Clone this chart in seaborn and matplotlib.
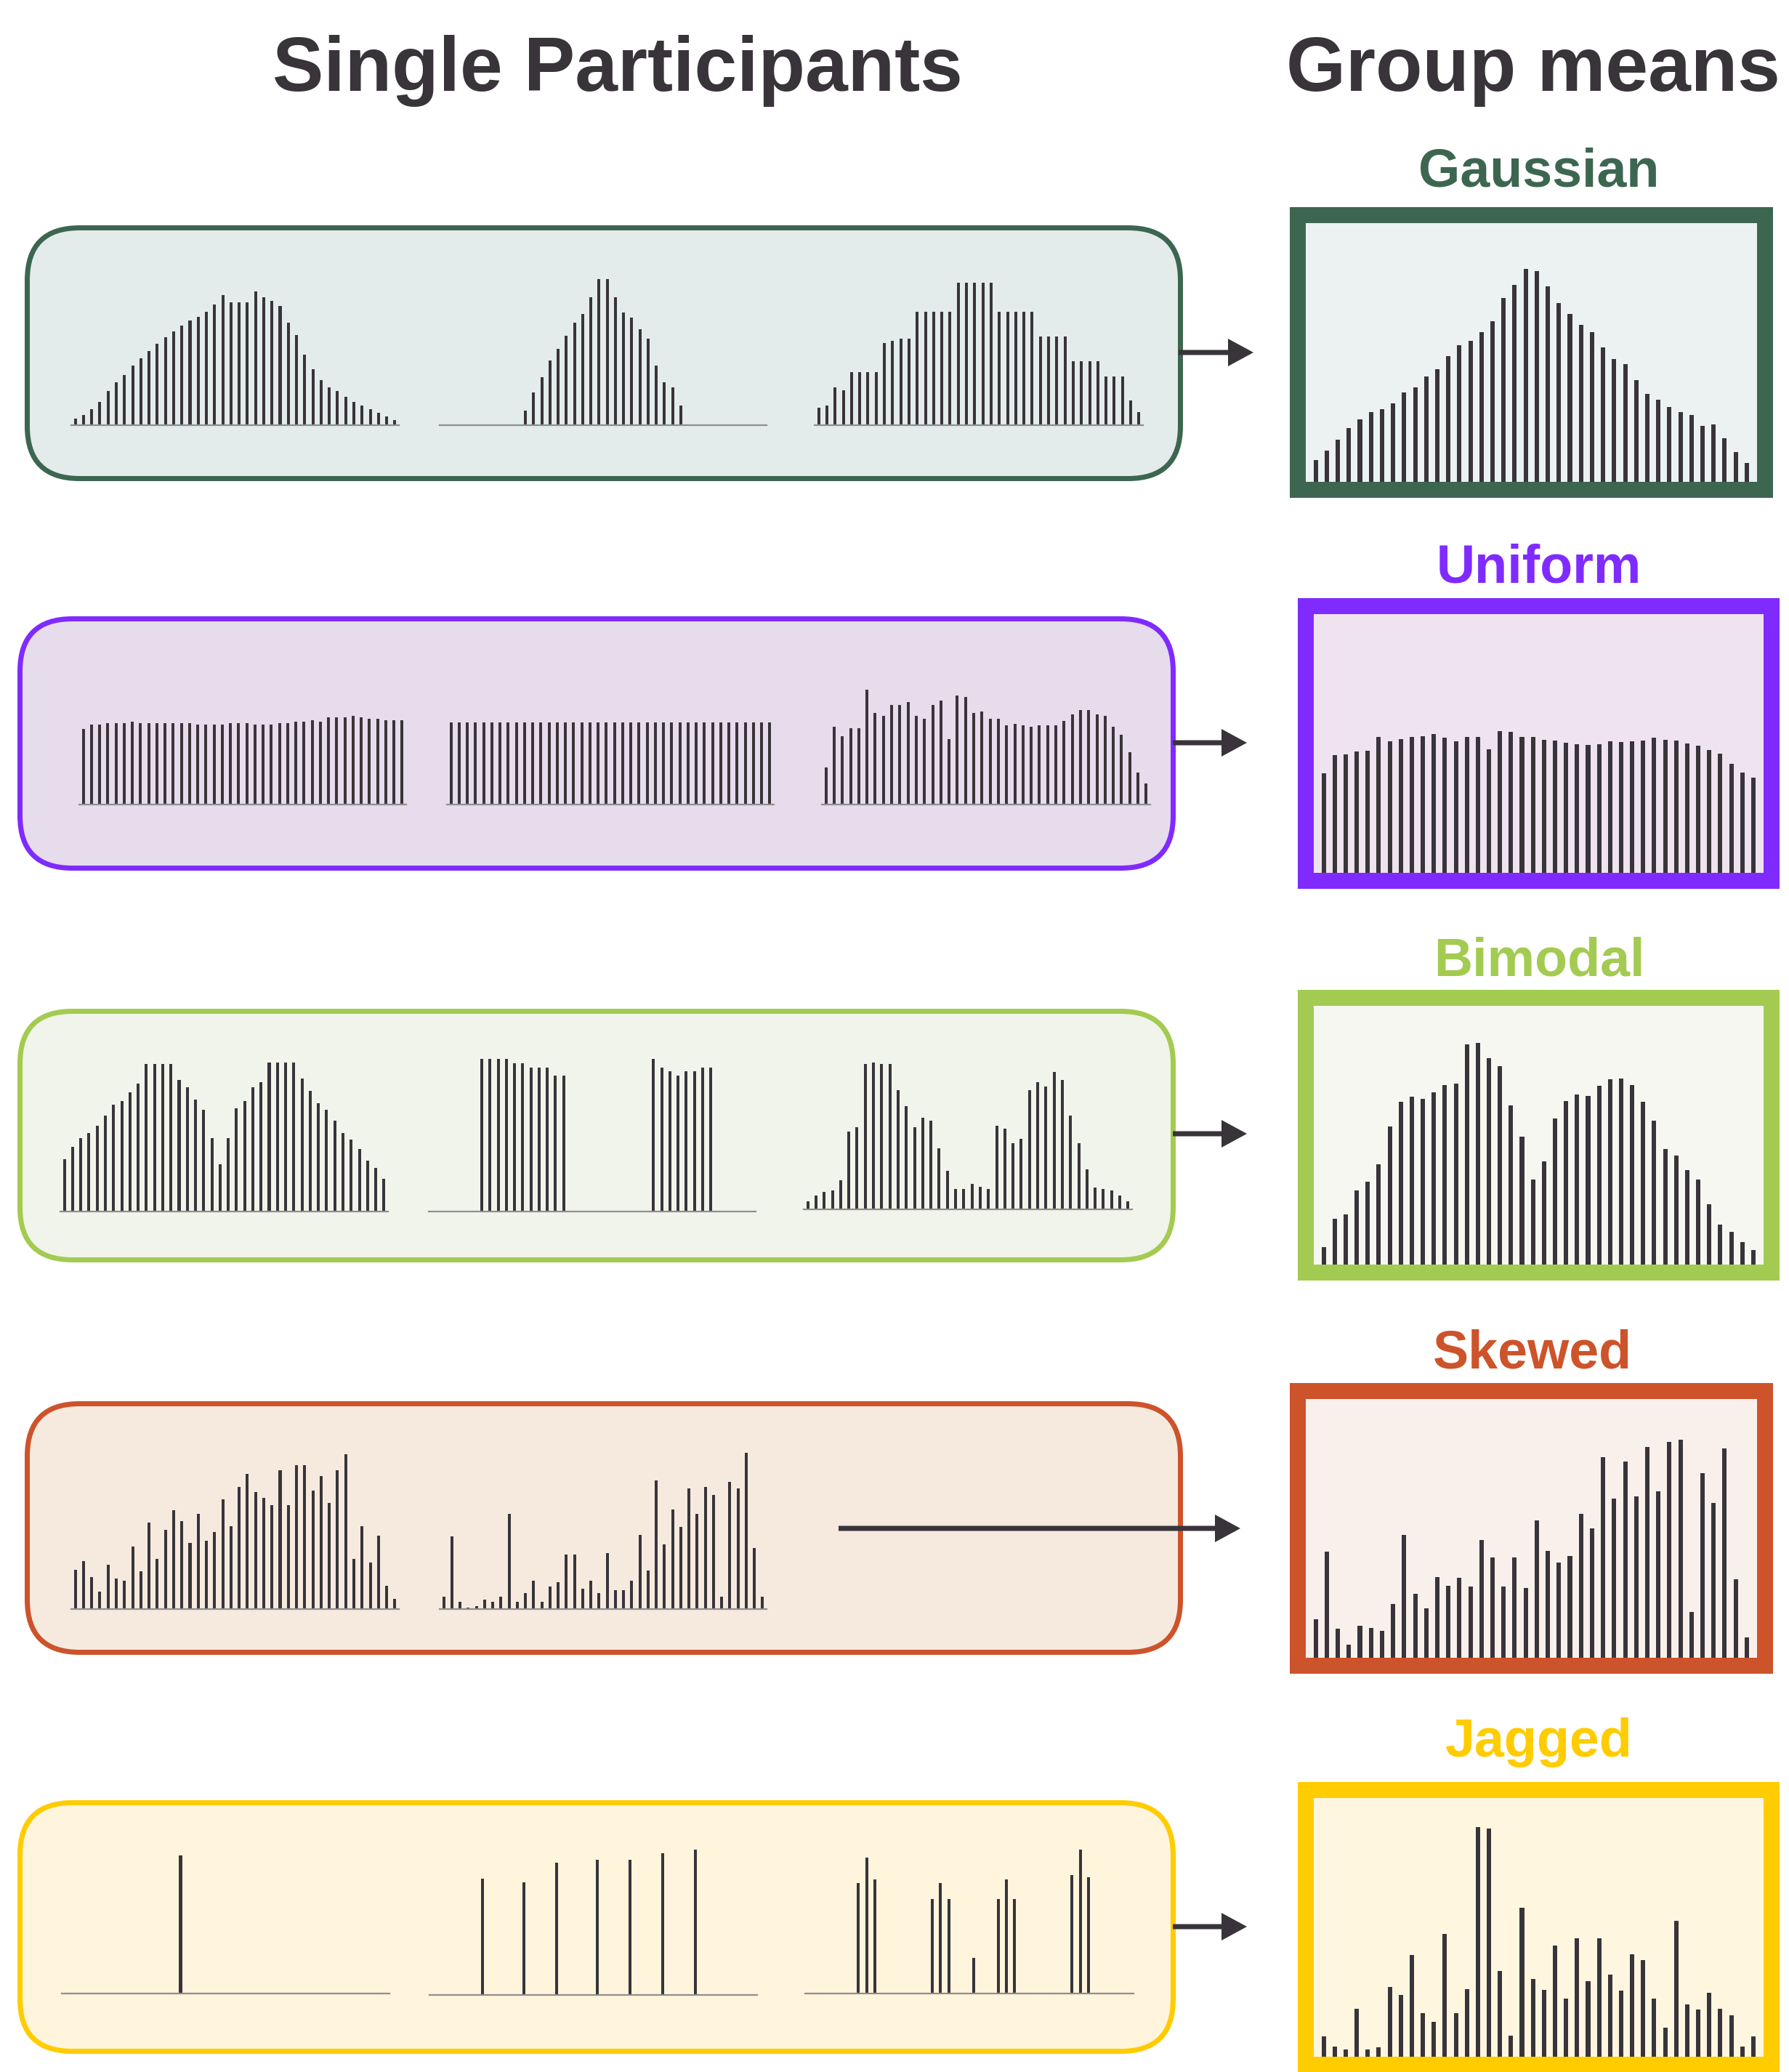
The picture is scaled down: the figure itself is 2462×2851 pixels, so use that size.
import numpy as np
import pandas as pd
import matplotlib
matplotlib.use("Agg")
import matplotlib.pyplot as plt
import seaborn as sns
from matplotlib.patches import FancyBboxPatch, Rectangle

sns.set_style("white")
plt.rcParams['font.family'] = ['Liberation Sans', 'DejaVu Sans']

# ---------------- data (bar heights, 40 bins per histogram) ----------------
gauss_p1 = [28, 43, 66, 96, 140, 178, 208, 245, 275, 305, 335, 364, 387, 410, 432, 447, 469, 499, 536, 507,
            507, 507, 551, 529, 514, 492, 424, 372, 290, 230, 186, 156, 141, 118, 96, 81, 66, 51, 36, 21]
gauss_p2 = [0, 0, 0, 0, 0, 0, 0, 0, 0, 0, 60, 136, 198, 267, 314, 368, 424, 459, 527, 604,
            604, 527, 466, 445, 397, 356, 246, 177, 157, 80, 0, 0, 0, 0, 0, 0, 0, 0, 0, 0]
gauss_p3 = [72, 81, 156, 144, 219, 219, 219, 219, 339, 348, 357, 357, 468, 468, 468, 468, 468, 588, 588, 588,
            588, 588, 468, 468, 468, 468, 468, 366, 366, 366, 366, 265, 265, 265, 265, 201, 201, 201, 101, 54]
gauss_mean = [90, 129, 174, 221, 257, 288, 301, 323, 368, 390, 435, 464, 519, 565, 582, 619, 664, 758, 813, 880,
              871, 806, 738, 693, 649, 618, 555, 506, 487, 420, 363, 339, 310, 288, 276, 231, 236, 179, 122, 77]

unif_p1 = [313, 330, 330, 336, 336, 336, 342, 336, 336, 336, 336, 336, 336, 336, 330, 330, 330, 330, 336, 336,
           336, 330, 330, 330, 336, 336, 342, 342, 348, 342, 360, 360, 360, 366, 360, 354, 354, 348, 348, 348]
unif_p2 = [340, 340, 340, 340, 340, 340, 340, 340, 340, 340, 340, 340, 340, 340, 340, 340, 340, 340, 340, 340,
           340, 340, 340, 340, 340, 340, 340, 340, 340, 340, 340, 340, 340, 340, 340, 340, 340, 340, 340, 340]
unif_p3 = [153, 321, 281, 315, 315, 475, 379, 365, 411, 411, 423, 365, 353, 411, 430, 269, 449, 443, 379, 385,
           353, 353, 327, 333, 327, 321, 327, 327, 327, 346, 372, 391, 391, 372, 366, 321, 288, 217, 133, 88]
unif_mean = [410, 486, 489, 501, 504, 560, 542, 551, 562, 565, 572, 557, 544, 561, 561, 509, 584, 581, 561, 562,
             549, 545, 537, 532, 528, 531, 542, 539, 542, 547, 559, 549, 546, 535, 525, 507, 492, 451, 413, 394]

bimod_p1 = [216, 266, 303, 325, 354, 397, 441, 455, 492, 528, 608, 608, 608, 608, 543, 513, 463, 419, 303, 194,
            303, 427, 455, 513, 535, 615, 615, 615, 615, 550, 499, 448, 419, 375, 325, 296, 259, 209, 180, 136]
bimod_p2 = [0, 0, 0, 0, 0, 0, 631, 631, 631, 631, 613, 613, 595, 595, 595, 560, 560, 0, 0, 0,
            0, 0, 0, 0, 0, 0, 0, 631, 595, 578, 560, 578, 578, 595, 595, 0, 0, 0, 0, 0]
bimod_p3 = [32, 57, 72, 79, 119, 321, 339, 600, 607, 600, 600, 493, 427, 339, 379, 365, 252, 159, 85, 85,
            105, 92, 85, 346, 332, 272, 292, 493, 526, 506, 566, 533, 386, 272, 165, 91, 84, 77, 57, 32]
bimod_mean = [71, 190, 208, 306, 342, 414, 569, 672, 692, 683, 711, 741, 748, 910, 916, 851, 819, 657, 528, 350,
              425, 603, 674, 702, 696, 738, 765, 769, 742, 673, 595, 478, 450, 391, 352, 250, 166, 135, 94, 59]

skew_p1 = [162, 199, 133, 73, 184, 125, 118, 259, 155, 356, 207, 326, 408, 363, 274, 393, 281, 319, 453, 341,
           505, 557, 482, 460, 430, 572, 430, 594, 594, 490, 550, 438, 572, 639, 207, 341, 192, 304, 95, 43]
skew_p2 = [51, 299, 31, 5, 12, 38, 31, 51, 392, 31, 65, 118, 31, 92, 111, 225, 225, 85, 118, 65,
           232, 78, 78, 118, 305, 159, 532, 266, 412, 339, 499, 392, 505, 472, 51, 525, 499, 645, 252, 51]
skew_mean = [160, 438, 120, 54, 133, 122, 111, 222, 506, 264, 203, 334, 297, 331, 294, 487, 415, 295, 415, 288,
             566, 441, 393, 420, 593, 534, 827, 658, 809, 666, 870, 687, 891, 899, 189, 763, 640, 863, 323, 84]

jag_p1 = [0, 0, 0, 0, 0, 0, 0, 0, 0, 0, 0, 0, 0, 0, 571, 0, 0, 0, 0, 0,
          0, 0, 0, 0, 0, 0, 0, 0, 0, 0, 0, 0, 0, 0, 0, 0, 0, 0, 0, 0]
jag_p2 = [0, 0, 0, 0, 0, 0, 479, 0, 0, 0, 0, 466, 0, 0, 0, 546, 0, 0, 0, 0,
          559, 0, 0, 0, 559, 0, 0, 0, 586, 0, 0, 0, 599, 0, 0, 0, 0, 0, 0, 0]
jag_p3 = [0, 0, 0, 0, 0, 0, 457, 562, 472, 0, 0, 0, 0, 0, 0, 390, 457, 390, 0, 0,
          146, 0, 0, 390, 472, 390, 0, 0, 0, 0, 0, 0, 489, 595, 480, 0, 0, 0, 0, 0]
jag_mean = [85, 42, 29, 198, 31, 38, 288, 254, 420, 181, 145, 506, 179, 278, 948, 942, 355, 86, 614, 322,
            276, 458, 239, 488, 313, 488, 338, 272, 424, 400, 239, 120, 562, 215, 195, 264, 197, 170, 41, 84]

titles = ["Single Participants", "Group means"]
labels = ["Gaussian", "Uniform", "Bimodal", "Skewed", "Jagged"]
participants = [[gauss_p1, gauss_p2, gauss_p3],
                [unif_p1, unif_p2, unif_p3],
                [bimod_p1, bimod_p2, bimod_p3],
                [skew_p1, skew_p2],
                [jag_p1, jag_p2, jag_p3]]
means = [gauss_mean, unif_mean, bimod_mean, skew_mean, jag_mean]

# ---------------- styling / layout ----------------
BAR = "#38343A"
TXT = "#38343A"
border_cols = ["#3D6651", "#7F2BFF", "#A3CB51", "#CD532B", "#FFCC00"]
box_fills = ["#E3ECEA", "#E6DCEC", "#F1F4EA", "#F6EADF", "#FFF4DC"]
inner_fills = ["#ECF1F1", "#EEE3EF", "#F6F7F1", "#F9F0EC", "#FFF6E0"]

# participant rounded boxes (x0, y0, x1, y1) in px (outer)
pboxes = [(34, 310, 1628, 662), (24, 848, 1618, 1198), (24, 1388, 1618, 1737),
          (34, 1928, 1628, 2277), (24, 2477, 1618, 2826)]
# participant panels (left, right, baseline)
ppanels = [[(98, 549, 585), (605, 1055, 585), (1121, 1573, 585)],
           [(109, 559, 1107), (615, 1065, 1107), (1131, 1583, 1107)],
           [(83, 534, 1667), (590, 1040, 1667), (1106, 1558, 1664)],
           [(98, 549, 2214), (605, 1055, 2214)],
           [(85, 536, 2743), (591, 1042, 2745), (1108, 1560, 2743)]]
# group-mean inner panels (x0, y0, x1, y1)
ginner = [(1797, 307, 2418, 663), (1808, 845, 2427, 1201), (1808, 1384, 2427, 1740),
          (1797, 1925, 2418, 2281), (1808, 2474, 2427, 2830)]
GB = 22
# arrows (x0, x1, y)
arrows = [(1622, 1725, 485), (1614, 1716, 1022), (1614, 1716, 1560),
          (1154, 1707, 2103), (1614, 1716, 2651)]
label_pos = [(2118, 256), (2118, 801), (2118, 1342), (2109, 1882), (2118, 2417)]

W, H = 2462, 2851
fig = plt.figure(figsize=(W / 100, H / 100), dpi=100)
bg = fig.add_axes([0, 0, 1, 1])
bg.set_xlim(0, W)
bg.set_ylim(H, 0)
bg.axis('off')


def px_axes(x0, y0, x1, y1):
    return fig.add_axes([x0 / W, 1 - y1 / H, (x1 - x0) / W, (y1 - y0) / H])


def draw_bars(ax, vals, width):
    df = pd.DataFrame({'bin': np.arange(len(vals)), 'height': vals})
    sns.barplot(data=df, x='bin', y='height', ax=ax, color=BAR, width=width,
                saturation=1, linewidth=0, errorbar=None)
    ax.set_xlabel('')
    ax.set_ylabel('')
    ax.set_xticks([])
    ax.set_yticks([])


# titles
bg.text(850, 125, titles[0], ha='center', va='baseline', fontsize=76,
        fontweight='bold', color=TXT)
bg.text(2110, 125, titles[1], ha='center', va='baseline', fontsize=76,
        fontweight='bold', color=TXT)

for r in range(5):
    x0, y0, x1, y1 = pboxes[r]
    lw_px = 7
    bg.add_patch(FancyBboxPatch((x0 + lw_px / 2, y0 + lw_px / 2), x1 - x0 - lw_px, y1 - y0 - lw_px,
                                boxstyle="round,pad=0,rounding_size=72",
                                fc=box_fills[r], ec=border_cols[r], lw=lw_px * 0.72, zorder=1))
    # arrow
    ax0, ax1, ay = arrows[r]
    bg.arrow(ax0, ay, ax1 - ax0, 0, width=7, head_width=38, head_length=35,
             length_includes_head=True, fc=BAR, ec=BAR, lw=0, zorder=3)
    # group-mean frame
    gx0, gy0, gx1, gy1 = ginner[r]
    bg.add_patch(Rectangle((gx0 - GB, gy0 - GB), gx1 - gx0 + 2 * GB, gy1 - gy0 + 2 * GB,
                           fc=border_cols[r], ec='none', zorder=1))
    lx, ly = label_pos[r]
    bg.text(lx, ly, labels[r], ha='center', va='baseline', fontsize=53,
            fontweight='bold', color=border_cols[r])

    # participant panels
    for (pl, pr, pb), vals in zip(ppanels[r], participants[r]):
        ax = px_axes(pl, pb - 240, pr, pb)
        ax.set_facecolor('none')
        draw_bars(ax, vals, 0.36)
        ax.set_xlim(-0.5, 39.5)
        ax.set_ylim(0, 720)
        for s in ['left', 'right', 'top']:
            ax.spines[s].set_visible(False)
        ax.spines['bottom'].set_color('#8F8F8F')
        ax.spines['bottom'].set_linewidth(1.6)

    # group mean panel
    gax = px_axes(gx0, gy0, gx1, gy1)
    gax.set_facecolor(inner_fills[r])
    draw_bars(gax, means[r], 0.4)
    gax.set_xlim(-0.9, 39.93)
    gax.set_ylim(0, 1068)
    for s in gax.spines.values():
        s.set_visible(False)

fig.savefig("out.png", dpi=100)
